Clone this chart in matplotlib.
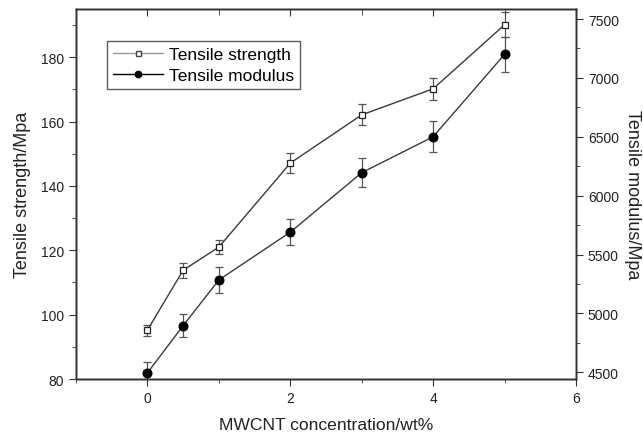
import matplotlib
matplotlib.use("Agg")
import matplotlib.pyplot as plt
from matplotlib.ticker import MultipleLocator, NullFormatter
from matplotlib.lines import Line2D

plt.rcParams['font.family'] = ['Liberation Sans', 'DejaVu Sans']

conc = [0, 0.5, 1, 2, 3, 4, 5]
strength = [95.2, 113.8, 121.0, 147.1, 162.1, 170.2, 190.1]
strength_err = [1.7, 2.4, 2.3, 3.1, 3.3, 3.4, 3.9]
modulus = [4495, 4896, 5284, 5690, 6195, 6500, 7200]
modulus_err = [90, 95, 110, 110, 124, 131, 147]

fig = plt.figure(figsize=(6.43, 4.39), dpi=100)
ax = fig.add_axes([76/643, 1 - 380/439, 500/643, 370/439])
ax2 = ax.twinx()
ax3 = ax.twiny()

lc = '#3a3a3a'
ax.errorbar(conc, strength, yerr=strength_err, color=lc, lw=1.0, marker='s',
            ms=4.6, mfc='white', mec='#222222', mew=0.9, ecolor='#555555',
            elinewidth=0.9, capsize=3, capthick=0.9, zorder=3)
ax2.errorbar(conc, modulus, yerr=modulus_err, color=lc, lw=1.0, marker='o',
             ms=6.2, mfc='black', mec='black', ecolor='#555555',
             elinewidth=0.9, capsize=3, capthick=0.9, zorder=3)

ax.set_xlim(-1, 6)
ax3.set_xlim(-1, 6)
ax.set_ylim(80, 195)
ax2.set_ylim(4443, 7585)

for a in (ax, ax3):
    a.xaxis.set_major_locator(MultipleLocator(2))
    a.xaxis.set_minor_locator(MultipleLocator(1))
ax3.xaxis.set_major_formatter(NullFormatter())
ax.yaxis.set_major_locator(MultipleLocator(20))
ax.yaxis.set_minor_locator(MultipleLocator(10))
ax2.yaxis.set_major_locator(MultipleLocator(500))
ax2.yaxis.set_minor_locator(MultipleLocator(250))

for a in (ax, ax2, ax3):
    for s in a.spines.values():
        s.set_linewidth(1.0)
        s.set_color('#333333')

common = dict(labelsize=10, colors='#333333', labelcolor='#222222')
ax.tick_params(axis='x', which='both', direction='out', top=False, **common)
ax.tick_params(axis='x', which='major', length=5)
ax.tick_params(axis='x', which='minor', length=3)
ax3.tick_params(axis='x', which='both', direction='in', colors='#333333')
ax3.tick_params(axis='x', which='major', length=5)
ax3.tick_params(axis='x', which='minor', length=4)
ax.tick_params(axis='y', which='both', direction='out', **common)
ax.tick_params(axis='y', which='major', length=5)
ax.tick_params(axis='y', which='minor', length=3)
ax2.tick_params(axis='y', which='both', direction='out', **common)
ax2.tick_params(axis='y', which='major', length=5)
ax2.tick_params(axis='y', which='minor', length=3)

ax.set_xlabel('MWCNT concentration/wt%', fontsize=12.6, color='#222222', labelpad=9)
ax.set_ylabel('Tensile strength/Mpa', fontsize=13, color='#222222', labelpad=7)
ax2.set_ylabel('Tensile modulus/Mpa', fontsize=13, color='#222222', rotation=270, labelpad=16)

handles = [
    Line2D([], [], color='#999999', lw=1.0, marker='s', ms=3.6, mfc='white', mec='#444444'),
    Line2D([], [], color='black', lw=1.0, marker='o', ms=4.6, mfc='black', mec='black'),
]
leg = ax.legend(handles, ['Tensile strength', 'Tensile modulus'], loc='upper left',
                bbox_to_anchor=(31/500, 1 - 32/370), fontsize=12.5, frameon=True,
                fancybox=False, edgecolor='#333333', handlelength=2.9,
                borderpad=0.35, labelspacing=0.3, handletextpad=0.3, borderaxespad=0)
leg.get_frame().set_linewidth(1.0)

fig.savefig('out.png', dpi=100)
